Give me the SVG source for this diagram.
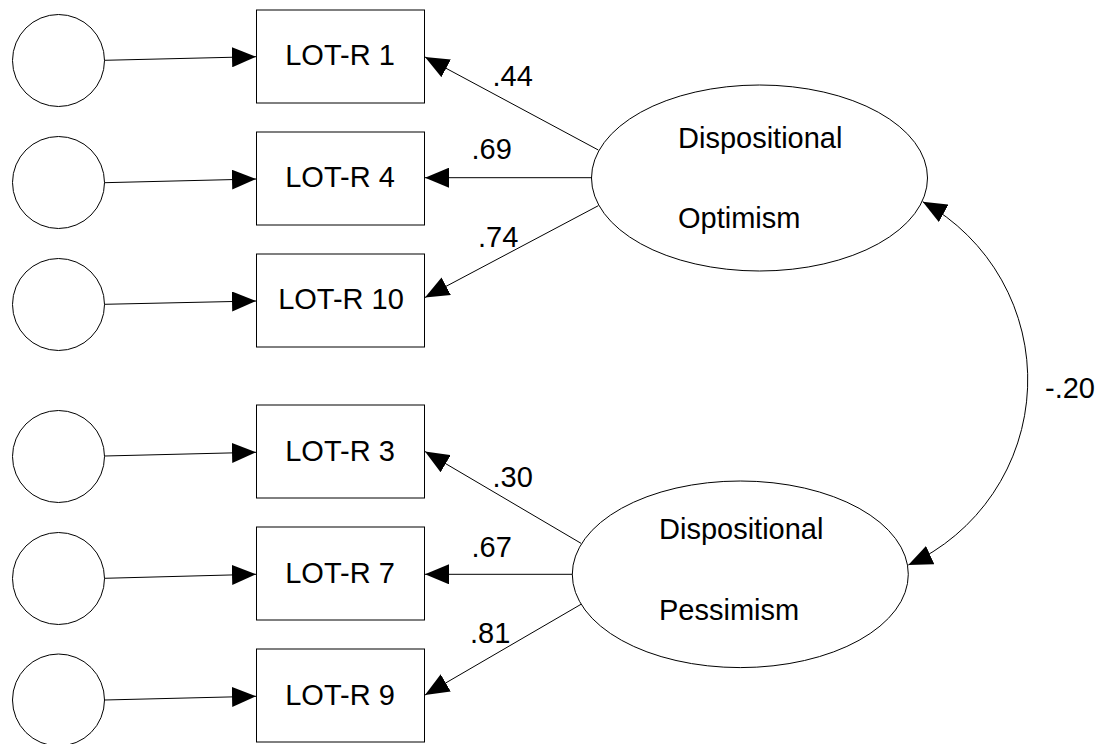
<svg xmlns="http://www.w3.org/2000/svg" width="1107" height="744" viewBox="0 0 1107 744">
  <style>
    .shape { fill: #fff; stroke: #000; stroke-width: 1; }
    .lbl { font-family: "Liberation Sans", Arial, sans-serif; font-size: 29px; fill: #000; }
    .mid { text-anchor: middle; }
    .edge { fill: none; stroke: #000; stroke-width: 1; }
  </style>
  <defs>
    <marker id="arrow" markerUnits="userSpaceOnUse" markerWidth="24" markerHeight="20" refX="24" refY="10" orient="auto-start-reverse" viewBox="0 0 24 20">
      <path d="M0,0 L24,10 L0,20 z" fill="#000"/>
    </marker>
  </defs>

  <rect width="1107" height="744" fill="#fff"/>

  <!-- error terms -->
  <g id="e1"><circle class="shape" cx="58.5" cy="60.5" r="46"/></g>
  <g id="e4"><circle class="shape" cx="58.5" cy="182.5" r="46"/></g>
  <g id="e10"><circle class="shape" cx="58.5" cy="304.5" r="46"/></g>
  <g id="e3"><circle class="shape" cx="58.5" cy="456.5" r="46"/></g>
  <g id="e7"><circle class="shape" cx="58.5" cy="578.5" r="46"/></g>
  <g id="e9"><circle class="shape" cx="58.5" cy="700" r="46"/></g>

  <!-- observed items -->
  <g id="lotr1"><rect class="shape" x="256.5" y="10" width="168" height="93"/><text class="lbl mid" x="340" y="64.5">LOT-R 1</text></g>
  <g id="lotr4"><rect class="shape" x="256.5" y="132" width="168" height="93"/><text class="lbl mid" x="340" y="187">LOT-R 4</text></g>
  <g id="lotr10"><rect class="shape" x="256.5" y="254" width="168" height="93"/><text class="lbl mid" x="341" y="308.5">LOT-R 10</text></g>
  <g id="lotr3"><rect class="shape" x="256.5" y="405" width="168" height="93"/><text class="lbl mid" x="340" y="460.5">LOT-R 3</text></g>
  <g id="lotr7"><rect class="shape" x="256.5" y="527" width="168" height="93"/><text class="lbl mid" x="340" y="582.5">LOT-R 7</text></g>
  <g id="lotr9"><rect class="shape" x="256.5" y="649" width="168" height="93"/><text class="lbl mid" x="340" y="704.5">LOT-R 9</text></g>

  <!-- latent factors -->
  <g id="optimism">
    <ellipse class="shape" cx="759.5" cy="178" rx="168" ry="93"/>
    <text class="lbl" x="678" y="147.5">Dispositional</text>
    <text class="lbl" x="678" y="228">Optimism</text>
  </g>
  <g id="pessimism">
    <ellipse class="shape" cx="740.3" cy="574.3" rx="168" ry="93.3"/>
    <text class="lbl" x="659" y="539">Dispositional</text>
    <text class="lbl" x="659" y="620">Pessimism</text>
  </g>

  <!-- paths -->
  <g id="connectors">
    <line class="edge" x1="104.5" y1="60.3" x2="256" y2="56.7" marker-end="url(#arrow)"/>
    <line class="edge" x1="104.5" y1="182.7" x2="256" y2="179" marker-end="url(#arrow)"/>
    <line class="edge" x1="104.5" y1="304.3" x2="256" y2="301" marker-end="url(#arrow)"/>
    <line class="edge" x1="104.5" y1="456" x2="256" y2="452.3" marker-end="url(#arrow)"/>
    <line class="edge" x1="104.5" y1="578.3" x2="256" y2="574.3" marker-end="url(#arrow)"/>
    <line class="edge" x1="104.5" y1="700" x2="256" y2="696.3" marker-end="url(#arrow)"/>

    <line class="edge" x1="598.3" y1="150" x2="425" y2="57" marker-end="url(#arrow)"/>
    <line class="edge" x1="591.7" y1="177.7" x2="425" y2="177.7" marker-end="url(#arrow)"/>
    <line class="edge" x1="598.3" y1="205.7" x2="425" y2="297.5" marker-end="url(#arrow)"/>

    <line class="edge" x1="581" y1="543.3" x2="425" y2="451.5" marker-end="url(#arrow)"/>
    <line class="edge" x1="572.3" y1="574.3" x2="425" y2="574.3" marker-end="url(#arrow)"/>
    <line class="edge" x1="581" y1="604.3" x2="425" y2="695" marker-end="url(#arrow)"/>

    <path class="edge" d="M922.7,201.7 A203.4,203.4 0 0 1 908.3,565" marker-start="url(#arrow)" marker-end="url(#arrow)"/>
  </g>

  <!-- coefficients -->
  <g id="coefficients">
    <text class="lbl" x="492.5" y="86">.44</text>
    <text class="lbl" x="471.5" y="159">.69</text>
    <text class="lbl" x="478" y="246.5">.74</text>
    <text class="lbl" x="492.5" y="486.5">.30</text>
    <text class="lbl" x="471.5" y="556.5">.67</text>
    <text class="lbl" x="470" y="642.5">.81</text>
    <text class="lbl" x="1045" y="398">-.20</text>
  </g>
</svg>
